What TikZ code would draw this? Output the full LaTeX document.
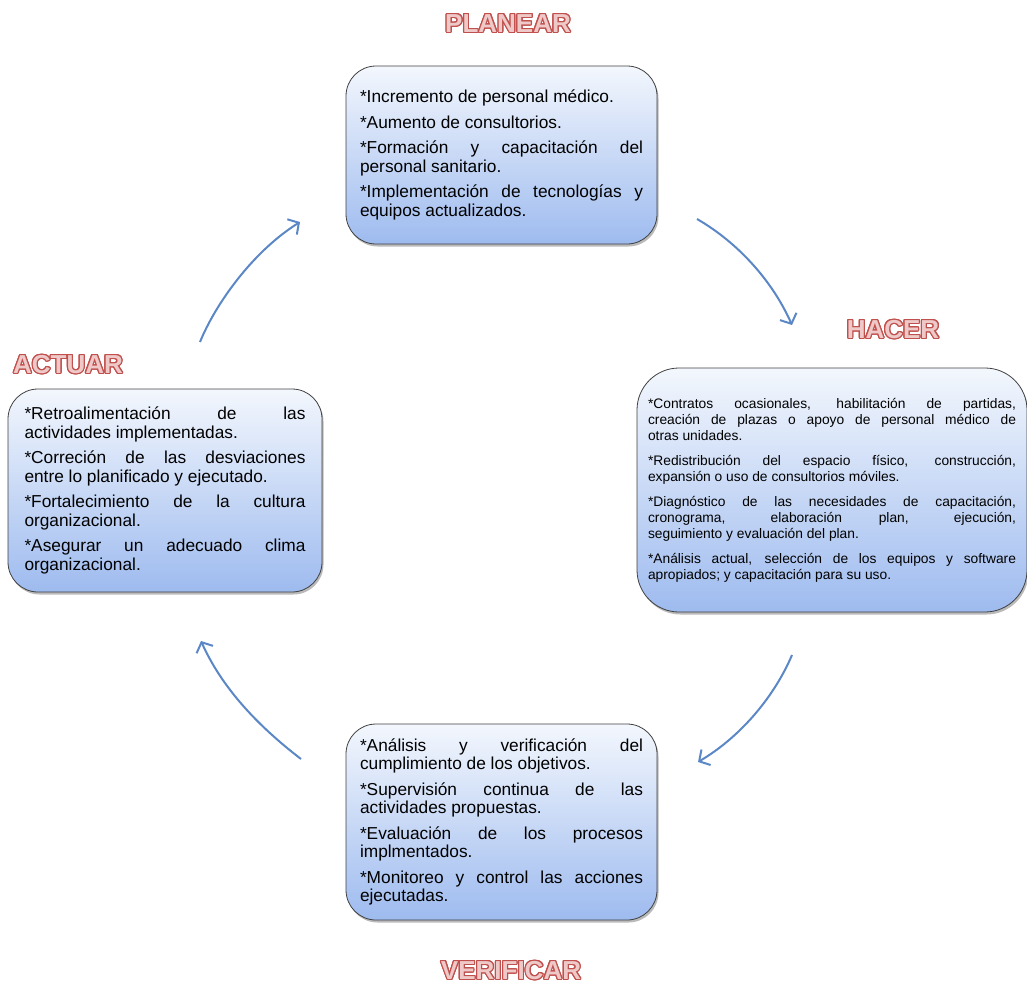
\documentclass[tikz,border=0pt]{standalone}
\usepackage{fontspec}
\setmainfont{Liberation Sans}
\usepackage{contour}
\usetikzlibrary{arrows.meta,shadows}
\definecolor{boxtop}{HTML}{F3F7FD}
\definecolor{boxbot}{HTML}{9EBBEF}
\definecolor{boxline}{HTML}{404040}
\definecolor{arrowblue}{HTML}{5B87C6}
\definecolor{titlered}{HTML}{C0504D}
\definecolor{titlepink}{HTML}{EEC9C8}
\contourlength{1.2pt}
\setlength{\parindent}{0pt}
\hyphenpenalty=10000
\exhyphenpenalty=10000
\tolerance=9999
\tikzset{
  cyclebox/.style={draw=boxline, line width=0.8pt, top color=boxtop, bottom color=boxbot,
    rounded corners=30pt, align=justify, inner xsep=4pt, inner ysep=4pt,
    drop shadow={shadow xshift=1.5pt, shadow yshift=-2.5pt, opacity=0.45, fill=black!60}},
  bigtext/.style={font=\fontsize{17.3}{18.5}\selectfont, execute at begin node={\setlength{\parskip}{7pt}}},
  smalltext/.style={font=\fontsize{13.8}{16.2}\selectfont, execute at begin node={\setlength{\parskip}{8.5pt}}},
  phase/.style={font=\fontsize{26}{30}\selectfont\bfseries, inner sep=0pt},
  cyclearrow/.style={draw=arrowblue, line width=2pt, -{Straight Barb[length=8pt,width=18pt]}}
}
\begin{document}
\begin{tikzpicture}[x=1pt,y=-1pt]
\useasboundingbox (0,0) rectangle (1027,985);

% boxes
\node[cyclebox, bigtext, minimum width=311pt, minimum height=178pt, text width=283pt] (plan) at (501.5,155)
 {*Incremento de personal médico.\par
  *Aumento de consultorios.\par
  *Formación y capacitación del\linebreak personal sanitario.\par
  *Implementación de tecnologías y\linebreak equipos actualizados.};

\node[cyclebox, smalltext, rounded corners=42pt, minimum width=390pt, minimum height=244pt, text width=368pt] (hacer) at (832,490)
 {*Contratos ocasionales, habilitación de partidas,\linebreak creación de plazas o apoyo de personal médico de\linebreak otras unidades.\par
  *Redistribución del espacio físico, construcción,\linebreak expansión o uso de consultorios móviles.\par
  *Diagnóstico de las necesidades de capacitación,\linebreak cronograma, elaboración plan, ejecución,\linebreak seguimiento y evaluación del plan.\par
  *Análisis actual, selección de los equipos y software\linebreak apropiados; y capacitación para su uso.};

\node[cyclebox, bigtext, minimum width=314pt, minimum height=203pt, text width=281pt] (actuar) at (165,490.5)
 {*Retroalimentación de las\linebreak actividades implementadas.\par
  *Correción de las desviaciones\linebreak entre lo planificado y ejecutado.\par
  *Fortalecimiento de la cultura\linebreak organizacional.\par
  *Asegurar un adecuado clima\linebreak organizacional.};

\node[cyclebox, bigtext, minimum width=311pt, minimum height=196pt, text width=283pt] (verif) at (501.5,822)
 {*Análisis y verificación del\linebreak cumplimiento de los objetivos.\par
  *Supervisión continua de las\linebreak actividades propuestas.\par
  *Evaluación de los procesos\linebreak implmentados.\par
  *Monitoreo y control las acciones\linebreak ejecutadas.};

% titles
\node[phase] (tplan) at (508,24) {\contour{titlered}{\textcolor{titlepink}{PLANEAR}}};
\node[phase] (thacer) at (893,330) {\contour{titlered}{\textcolor{titlepink}{HACER}}};
\node[phase] (tactuar) at (68,365) {\contour{titlered}{\textcolor{titlepink}{ACTUAR}}};
\node[phase] (tverif) at (511,971) {\contour{titlered}{\textcolor{titlepink}{VERIFICAR}}};

% arrows
\coordinate (a1s) at (200,342); \coordinate (a1e) at (300,222);
\coordinate (a2s) at (697,219); \coordinate (a2e) at (792,325);
\coordinate (a3s) at (792,655); \coordinate (a3e) at (698,762);
\coordinate (a4s) at (301,759); \coordinate (a4e) at (201,641);
\draw[cyclearrow] (a1s) .. controls (215,305) and (252,252) .. (a1e);
\draw[cyclearrow] (a2s) .. controls (737,242) and (772,280) .. (a2e);
\draw[cyclearrow] (a3s) .. controls (775,695) and (742,736) .. (a3e);
\draw[cyclearrow] (a4s) .. controls (258,726) and (222,688) .. (a4e);
\end{tikzpicture}
\end{document}
